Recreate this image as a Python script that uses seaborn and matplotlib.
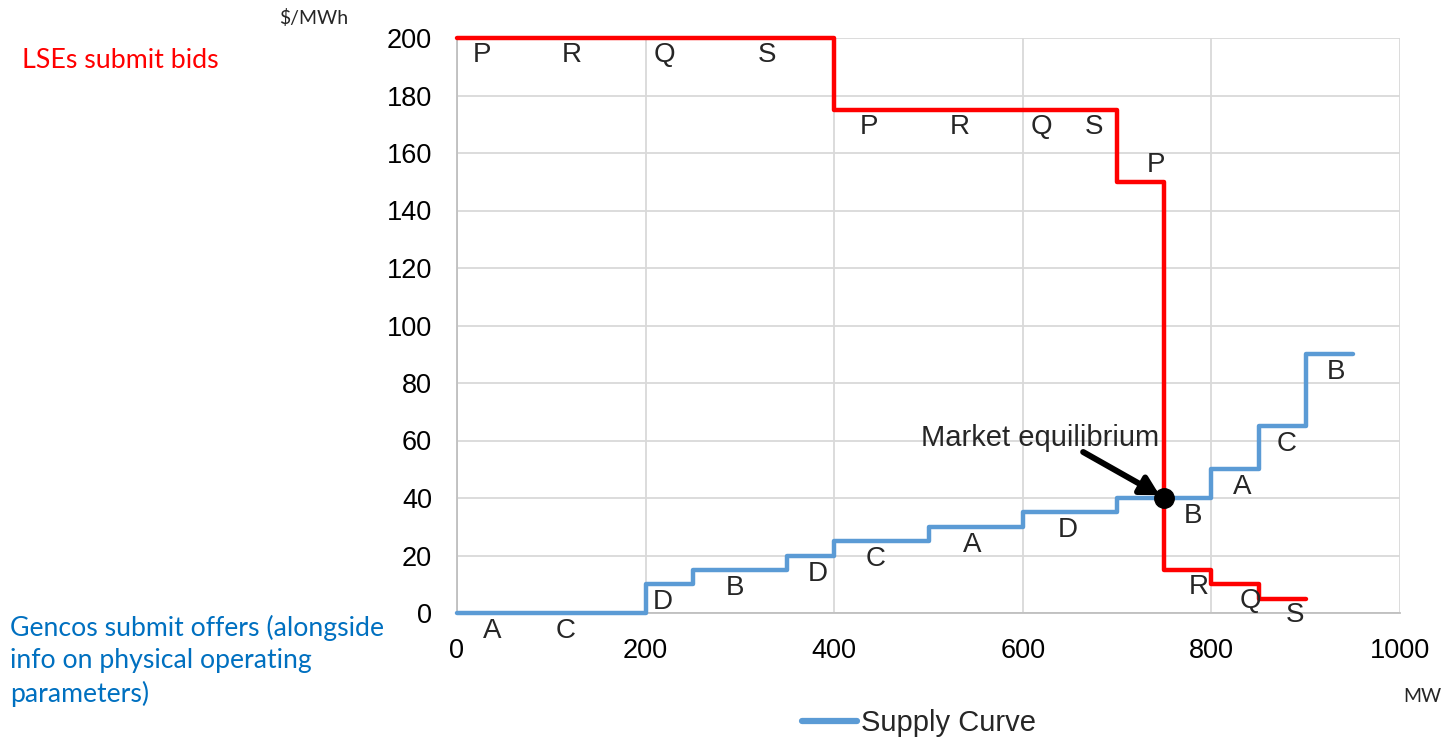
import numpy as np
import pandas as pd
import matplotlib
matplotlib.use("Agg")
import matplotlib.pyplot as plt
from matplotlib.lines import Line2D
import seaborn as sns

# ---- data ----
supply_gencos = ["A", "C", "D", "B", "D", "C", "A", "D", "B", "A", "C", "B"]
supply_mw = [100, 100, 50, 100, 50, 100, 100, 100, 100, 50, 50, 50]
supply_price = [0, 0, 10, 15, 20, 25, 30, 35, 40, 50, 65, 90]

demand_lses = ["P", "R", "Q", "S", "P", "R", "Q", "S", "P", "R", "Q", "S"]
demand_mw = [100, 100, 100, 100, 100, 100, 50, 50, 50, 50, 50, 50]
demand_price = [200, 200, 200, 200, 175, 175, 175, 175, 150, 15, 10, 5]

equilibrium_mw = 750
equilibrium_price = 40

x_ticks = [0, 200, 400, 600, 800, 1000]
y_ticks = [0, 20, 40, 60, 80, 100, 120, 140, 160, 180, 200]

# label nudges (styling, MW) and vertical side (-1 below, +1 above)
supply_nudge = [-13, -35, -7, -5, 8, -6, -4, -2, 30, 8, 5, 7]
demand_nudge = [-24, -28, -30, -21, -13, -17, -5, 1, 16, 12, 16, 14]
demand_side = [-1, -1, -1, -1, -1, -1, -1, -1, 1, -1, -1, -1]


def steps(widths, prices):
    edges = np.concatenate([[0], np.cumsum(widths)])
    ys = list(prices) + [prices[-1]]
    return pd.DataFrame({"MW": edges, "price": ys}), edges


supply_df, s_edges = steps(supply_mw, supply_price)
demand_df, d_edges = steps(demand_mw, demand_price)

sns.set_theme(style="white")
plt.rcParams["font.family"] = ["Liberation Sans", "DejaVu Sans"]

fig = plt.figure(figsize=(14.45, 7.42), dpi=100)
ax = fig.add_axes([457 / 1445, 1 - 613 / 742, (1400 - 457) / 1445, (613 - 38) / 742])

blue = "#5B9BD5"
red = "#FF0000"

sns.lineplot(data=supply_df, x="MW", y="price", ax=ax, color=blue, lw=3.2,
             drawstyle="steps-post", estimator=None, sort=False, clip_on=False,
             zorder=3, legend=False)
sns.lineplot(data=demand_df, x="MW", y="price", ax=ax, color=red, lw=3.2,
             drawstyle="steps-post", estimator=None, sort=False, clip_on=False,
             zorder=4, legend=False)

ax.set_xlim(0, 1000)
ax.set_ylim(0, 200)
ax.set_xticks(x_ticks)
ax.set_yticks(y_ticks)
ax.tick_params(axis="both", length=0, labelsize=19.5, colors="black")
ax.tick_params(axis="x", pad=18)
ax.tick_params(axis="y", pad=18)
ax.set_xlabel("")
ax.set_ylabel("")
ax.grid(True, color="#d9d9d9", lw=1.3)
for s in ["top", "right"]:
    ax.spines[s].set_visible(False)
for s in ["left", "bottom"]:
    ax.spines[s].set_color("#bfbfbf")
    ax.spines[s].set_linewidth(1.3)

LBL = 20
# block labels
for i, g in enumerate(supply_gencos):
    mid = (s_edges[i] + s_edges[i + 1]) / 2 + supply_nudge[i]
    ax.annotate(g, (mid, supply_price[i]), xytext=(0, -13), textcoords="offset points",
                ha="center", va="center", fontsize=LBL, zorder=5, annotation_clip=False)
for i, g in enumerate(demand_lses):
    mid = (d_edges[i] + d_edges[i + 1]) / 2 + demand_nudge[i]
    ax.annotate(g, (mid, demand_price[i]), xytext=(0, 12 * demand_side[i]),
                textcoords="offset points", ha="center", va="center", fontsize=LBL,
                zorder=5, annotation_clip=False)

# equilibrium
ax.plot([equilibrium_mw], [equilibrium_price], "o", color="black", ms=14, zorder=6)
ax.annotate("", xy=(745, 41), xytext=(664, 56),
            arrowprops=dict(arrowstyle="-|>,head_length=0.9,head_width=0.5",
                            color="black", lw=4.3, shrinkA=0, shrinkB=0), zorder=6)
ax.text(618, 60.9, "Market equilibrium", ha="center", va="center", fontsize=21, zorder=6)

# side texts
side_font = ["Lato", "DejaVu Sans"]
fig.text(314 / 1445, 1 - 18 / 742, "$/MWh", ha="center", va="center", fontsize=14,
         family=side_font)
fig.text(1422 / 1445, 1 - 697 / 742, "MW", ha="center", va="center", fontsize=14,
         family=side_font)
fig.text(22 / 1445, 1 - 60 / 742, "LSEs submit bids", ha="left", va="center",
         fontsize=19.3, color=red, family=side_font)
fig.text(10 / 1445, 1 - 661 / 742,
         "Gencos submit offers (alongside\ninfo on physical operating\nparameters)",
         ha="left", va="center", fontsize=19.2, color="#0070C0", family=side_font,
         linespacing=1.38)

# legend
handle = Line2D([], [], color=blue, lw=4.5, solid_capstyle="round")
fig.legend([handle], ["Supply Curve"], loc="center",
           bbox_to_anchor=(919 / 1445, 1 - 723 / 742), frameon=False,
           fontsize=21, handlelength=1.9, handletextpad=0.15)

fig.savefig("out.png", dpi=100)
